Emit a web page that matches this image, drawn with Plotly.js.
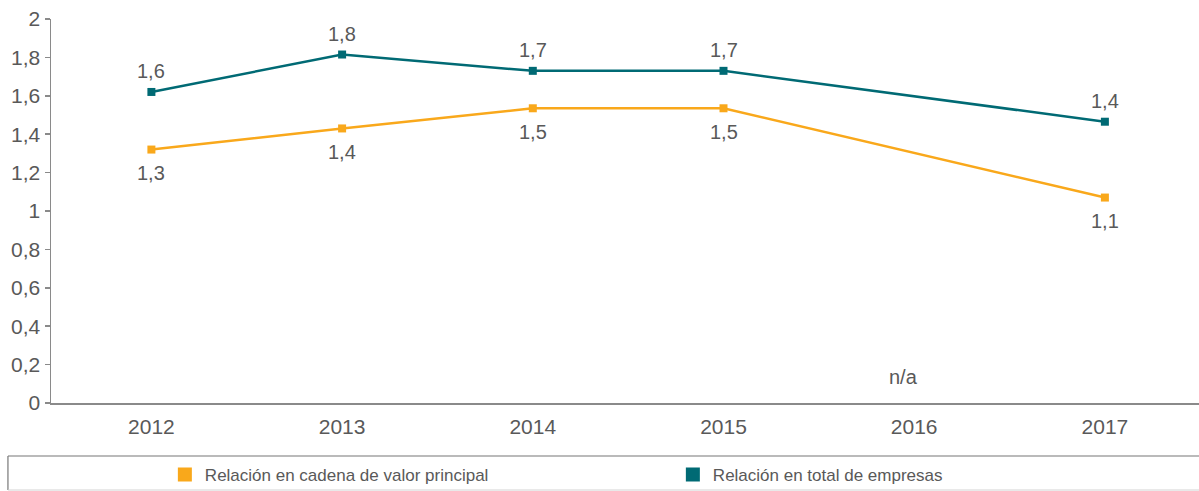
<!DOCTYPE html>
<html>
<head>
<meta charset="utf-8">
<script src="https://cdn.plot.ly/plotly-3.0.1.min.js"></script>
<style>
  html, body { margin: 0; padding: 0; background: #fff; }
  #chart { width: 1199px; height: 491px; }
</style>
</head>
<body>
<div id="chart"></div>
<script>
const years = ['2012', '2013', '2014', '2015', '2016', '2017'];
const cadenaValues = [1.32, 1.43, 1.535, 1.535, null, 1.07];
const totalValues = [1.62, 1.815, 1.73, 1.73, null, 1.465];
const cadenaLabels = ['1,3', '1,4', '1,5', '1,5', '', '1,1'];
const totalLabels = ['1,6', '1,8', '1,7', '1,7', '', '1,4'];
const seriesNames = ['Relación en cadena de valor principal', 'Relación en total de empresas'];
const yTickVals = [0, 0.2, 0.4, 0.6, 0.8, 1, 1.2, 1.4, 1.6, 1.8, 2];
const yTickText = ['0', '0,2', '0,4', '0,6', '0,8', '1', '1,2', '1,4', '1,6', '1,8', '2'];
const naLabel = 'n/a';
const naYear = '2016';

const orange = '#F9A81B';
const teal = '#006A74';
const textGray = '#595959';
const fam = "'Liberation Sans', Arimo, Arial, sans-serif";
const labelFont = { family: fam, size: 20, color: textGray };
const tickFont = { family: fam, size: 21, color: textGray };
const legendFont = { family: fam, size: 17, color: textGray };

const traces = [
  {
    x: years, y: cadenaValues, name: seriesNames[0],
    type: 'scatter', mode: 'lines+markers', connectgaps: true,
    line: { color: orange, width: 2.5 },
    marker: { color: orange, size: 8, symbol: 'square' },
    showlegend: false, hoverinfo: 'skip'
  },
  {
    x: years, y: totalValues, name: seriesNames[1],
    type: 'scatter', mode: 'lines+markers', connectgaps: true,
    line: { color: teal, width: 2.5 },
    marker: { color: teal, size: 8, symbol: 'square' },
    showlegend: false, hoverinfo: 'skip'
  },
  {
    x: [null], y: [null], name: seriesNames[0], type: 'scatter', mode: 'markers',
    marker: { color: orange, size: 14, symbol: 'square' }, showlegend: true
  },
  {
    x: [null], y: [null], name: seriesNames[1], type: 'scatter', mode: 'markers',
    marker: { color: teal, size: 14, symbol: 'square' }, showlegend: true
  }
];

const annotations = [];
years.forEach(function (yr, i) {
  if (cadenaValues[i] !== null) {
    annotations.push({ x: i, y: cadenaValues[i], xref: 'x', yref: 'y', text: cadenaLabels[i],
      showarrow: false, yanchor: 'middle', yshift: -23.5, font: labelFont });
  }
  if (totalValues[i] !== null) {
    annotations.push({ x: i, y: totalValues[i], xref: 'x', yref: 'y', text: totalLabels[i],
      showarrow: false, yanchor: 'middle', yshift: 20.5, font: labelFont });
  }
});
annotations.push({ x: years.indexOf(naYear), y: 0, xref: 'x', yref: 'y', text: naLabel, showarrow: false,
  yanchor: 'middle', yshift: 26, xshift: -11, font: labelFont });

const layout = {
  width: 1199, height: 491,
  margin: { l: 51, r: 0, t: 19, b: 88 },
  paper_bgcolor: '#fff', plot_bgcolor: '#fff',
  showlegend: true,
  xaxis: {
    type: 'category', range: [-0.5265, 5.4935],
    showgrid: false, zeroline: false, automargin: false,
    showline: true, linecolor: '#8a8a8a', linewidth: 1.5,
    ticks: '', tickfont: tickFont, ticklabelstandoff: 4, fixedrange: true
  },
  yaxis: {
    range: [0, 2], tickvals: yTickVals, ticktext: yTickText,
    showgrid: false, zeroline: false, automargin: false,
    showline: true, linecolor: '#8a8a8a', linewidth: 1.5,
    ticks: 'outside', ticklen: 5, tickcolor: '#8a8a8a', tickwidth: 1.5,
    tickfont: tickFont, fixedrange: true
  },
  legend: {
    orientation: 'h', xref: 'container', yref: 'container',
    x: 0.1375, xanchor: 'left', y: 1 - 475 / 491, yanchor: 'middle',
    font: legendFont, bgcolor: 'rgba(0,0,0,0)', entrywidth: 463, entrywidthmode: 'pixels'
  },
  annotations: annotations,
  shapes: [
    { type: 'line', xref: 'paper', yref: 'paper', x0: -0.0375, x1: 1.01, y0: -0.138, y1: -0.138, line: { color: '#777', width: 1.2 } },
    { type: 'line', xref: 'paper', yref: 'paper', x0: -0.0375, x1: -0.0375, y0: -0.138, y1: -0.2266, line: { color: '#777', width: 1.2 } },
    { type: 'line', xref: 'paper', yref: 'paper', x0: -0.0375, x1: 1.01, y0: -0.2266, y1: -0.2266, line: { color: '#d4d4d4', width: 1.2 } }
  ]
};

Plotly.newPlot('chart', traces, layout, { displayModeBar: false, staticPlot: true });
</script>
</body>
</html>
